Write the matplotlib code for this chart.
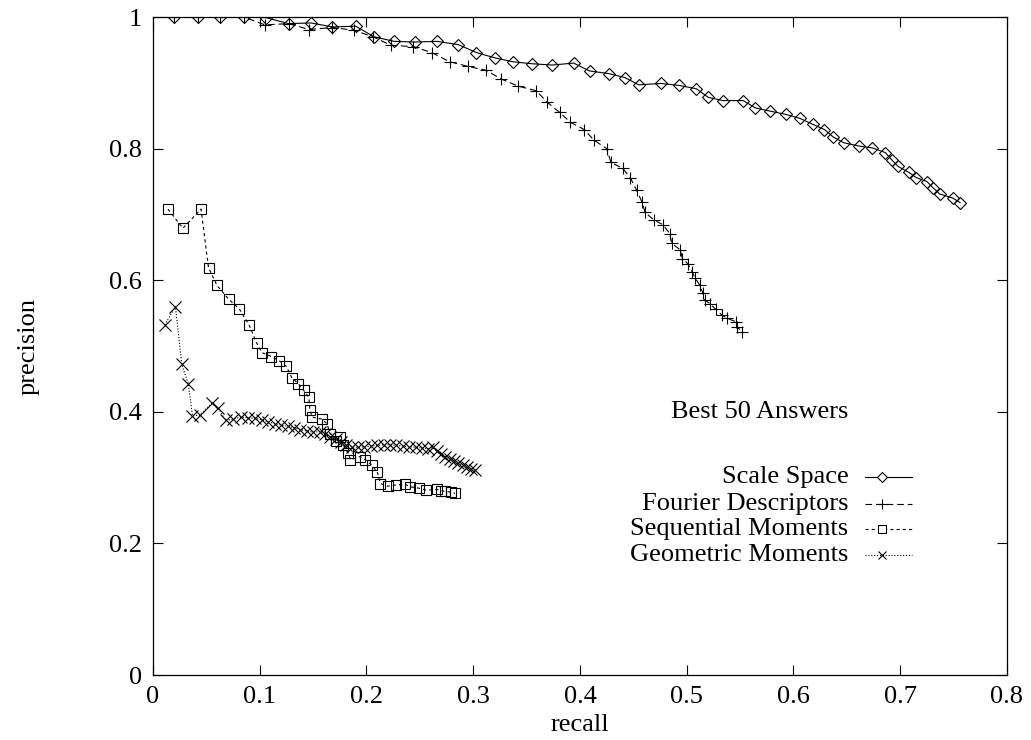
"""Precision/recall curves for the best 50 answers, gnuplot look."""

import matplotlib

matplotlib.use("Agg")
import matplotlib.pyplot as plt
from matplotlib.lines import Line2D

plt.rcParams["font.family"] = ["Liberation Serif", "DejaVu Serif"]
plt.rcParams["font.size"] = 19

scale_recall = [0.020, 0.042, 0.063, 0.085, 0.106, 0.127, 0.148, 0.168, 0.190, 0.207,
                0.226, 0.245, 0.266, 0.286, 0.303, 0.320, 0.337, 0.355, 0.374, 0.394,
                0.409, 0.427, 0.442, 0.455, 0.476, 0.493, 0.509, 0.520, 0.534, 0.553,
                0.564, 0.578, 0.593, 0.606, 0.618, 0.629, 0.637, 0.647, 0.661, 0.674,
                0.686, 0.692, 0.698, 0.708, 0.715, 0.725, 0.731, 0.737, 0.749, 0.756]
scale_precision = [1.0, 1.0, 1.0, 1.0, 0.999, 0.990, 0.991, 0.985, 0.986, 0.970,
                   0.963, 0.962, 0.963, 0.958, 0.946, 0.938, 0.932, 0.929, 0.927, 0.930,
                   0.918, 0.914, 0.908, 0.897, 0.899, 0.896, 0.891, 0.878, 0.873, 0.873,
                   0.862, 0.857, 0.852, 0.846, 0.837, 0.829, 0.818, 0.809, 0.804, 0.801,
                   0.794, 0.783, 0.773, 0.764, 0.756, 0.750, 0.740, 0.731, 0.725, 0.718]

fourier_recall = [0.020, 0.042, 0.063, 0.085, 0.105, 0.127, 0.146, 0.168, 0.188, 0.206,
                  0.223, 0.244, 0.261, 0.278, 0.295, 0.312, 0.326, 0.342, 0.359, 0.369,
                  0.381, 0.391, 0.404, 0.413, 0.425, 0.429, 0.440, 0.447, 0.453, 0.458,
                  0.461, 0.469, 0.478, 0.484, 0.486, 0.494, 0.496, 0.501, 0.505, 0.508,
                  0.512, 0.515, 0.517, 0.522, 0.527, 0.533, 0.538, 0.546, 0.547, 0.552]
fourier_precision = [1.0, 1.0, 1.0, 1.0, 0.988, 0.990, 0.981, 0.984, 0.980, 0.970,
                     0.957, 0.955, 0.946, 0.932, 0.925, 0.919, 0.906, 0.895, 0.888, 0.871,
                     0.855, 0.840, 0.829, 0.813, 0.800, 0.779, 0.770, 0.756, 0.737, 0.719,
                     0.703, 0.692, 0.684, 0.671, 0.656, 0.646, 0.633, 0.625, 0.613, 0.603,
                     0.593, 0.581, 0.570, 0.564, 0.556, 0.547, 0.542, 0.537, 0.529, 0.522]

seq_recall = [0.014, 0.028, 0.045, 0.052, 0.060, 0.071, 0.081, 0.090, 0.097, 0.102,
              0.111, 0.118, 0.125, 0.130, 0.136, 0.141, 0.146, 0.147, 0.149, 0.158,
              0.163, 0.166, 0.171, 0.175, 0.178, 0.183, 0.185, 0.194, 0.199, 0.205,
              0.210, 0.213, 0.220, 0.228, 0.236, 0.241, 0.249, 0.256, 0.266, 0.270,
              0.274, 0.279, 0.283]
seq_precision = [0.708, 0.679, 0.708, 0.619, 0.592, 0.571, 0.556, 0.532, 0.505, 0.490,
                 0.484, 0.478, 0.469, 0.452, 0.443, 0.433, 0.422, 0.403, 0.392, 0.389,
                 0.382, 0.366, 0.356, 0.361, 0.350, 0.337, 0.327, 0.332, 0.327, 0.319,
                 0.309, 0.291, 0.287, 0.289, 0.290, 0.286, 0.284, 0.281, 0.282, 0.280,
                 0.279, 0.278, 0.276]

geo_recall = [0.011, 0.021, 0.027, 0.033, 0.037, 0.044, 0.055, 0.061, 0.068, 0.075,
              0.082, 0.089, 0.096, 0.102, 0.108, 0.114, 0.120, 0.126, 0.132, 0.138,
              0.144, 0.150, 0.156, 0.161, 0.166, 0.171, 0.176, 0.181, 0.186, 0.192,
              0.198, 0.204, 0.210, 0.216, 0.222, 0.228, 0.234, 0.240, 0.246, 0.252,
              0.258, 0.262, 0.266, 0.270, 0.274, 0.278, 0.282, 0.286, 0.290, 0.294,
              0.298, 0.302]
geo_precision = [0.532, 0.560, 0.472, 0.443, 0.394, 0.395, 0.413, 0.406, 0.387, 0.389,
                 0.392, 0.391, 0.390, 0.388, 0.385, 0.382, 0.380, 0.378, 0.376, 0.373,
                 0.371, 0.369, 0.370, 0.366, 0.362, 0.358, 0.354, 0.350, 0.347, 0.346,
                 0.347, 0.348, 0.349, 0.350, 0.350, 0.349, 0.348, 0.347, 0.346, 0.345,
                 0.344, 0.346, 0.340, 0.336, 0.332, 0.328, 0.325, 0.322, 0.319, 0.316,
                 0.313, 0.311]

x_ticks = [0, 0.1, 0.2, 0.3, 0.4, 0.5, 0.6, 0.7, 0.8]
y_ticks = [0, 0.2, 0.4, 0.6, 0.8, 1.0]

SERIES = [
    ("Scale Space", scale_recall, scale_precision,
     dict(linestyle="-", marker="D", markersize=6.5)),
    ("Fourier Descriptors", fourier_recall, fourier_precision,
     dict(linestyle=(0, (6, 3.5)), marker="+", markersize=9)),
    ("Sequential Moments", seq_recall, seq_precision,
     dict(linestyle=(0, (2.8, 2.8)), marker="s", markersize=7)),
    ("Geometric Moments", geo_recall, geo_precision,
     dict(linestyle=(0, (1.0, 1.6)), marker="x", markersize=8.5)),
]


def fmt(v: float) -> str:
    return f"{v:g}"


def legend_entry(fig, y: float, label: str, style: dict) -> None:
    fig.text(0.823, y, label, ha="right", va="center")
    fig.add_artist(Line2D([0.839, 0.885], [y, y], transform=fig.transFigure,
                          color="black", lw=0.8, linestyle=style["linestyle"]))
    fig.add_artist(Line2D([0.855], [y], transform=fig.transFigure, color="black",
                          lw=0.8, linestyle="none", marker=style["marker"],
                          markersize=style["markersize"] * 0.75, markerfacecolor="white",
                          markeredgewidth=0.8))


def main() -> None:
    fig = plt.figure(figsize=(10.31, 7.40), dpi=100)
    ax = fig.add_axes([0.1484, 0.0878, 0.8283, 0.8892])

    for label, rec, prec, style in SERIES:
        ax.plot(rec, prec, color="black", lw=0.8, linestyle=style["linestyle"],
                marker=style["marker"], markersize=style["markersize"],
                markerfacecolor="none", markeredgewidth=0.8, label=label)

    ax.set_xlim(0, 0.8)
    ax.set_ylim(0, 1.0)
    ax.set_xticks(x_ticks)
    ax.set_xticklabels([fmt(v) for v in x_ticks])
    ax.set_yticks(y_ticks)
    ax.set_yticklabels([fmt(v) for v in y_ticks])
    ax.tick_params(direction="in", length=7, width=0.8, top=True, right=True, pad=8)
    for spine in ax.spines.values():
        spine.set_linewidth(0.9)
    ax.set_xlabel("recall", labelpad=4)
    ax.set_ylabel("precision", labelpad=50)

    fig.text(0.823, 0.443, "Best 50 Answers", ha="right", va="center")
    rows_y = [0.355, 0.319, 0.285, 0.250]
    for y, (label, _, _, style) in zip(rows_y, SERIES):
        legend_entry(fig, y, label, style)

    fig.savefig("out.png", dpi=100)
    plt.close(fig)


if __name__ == "__main__":
    main()
